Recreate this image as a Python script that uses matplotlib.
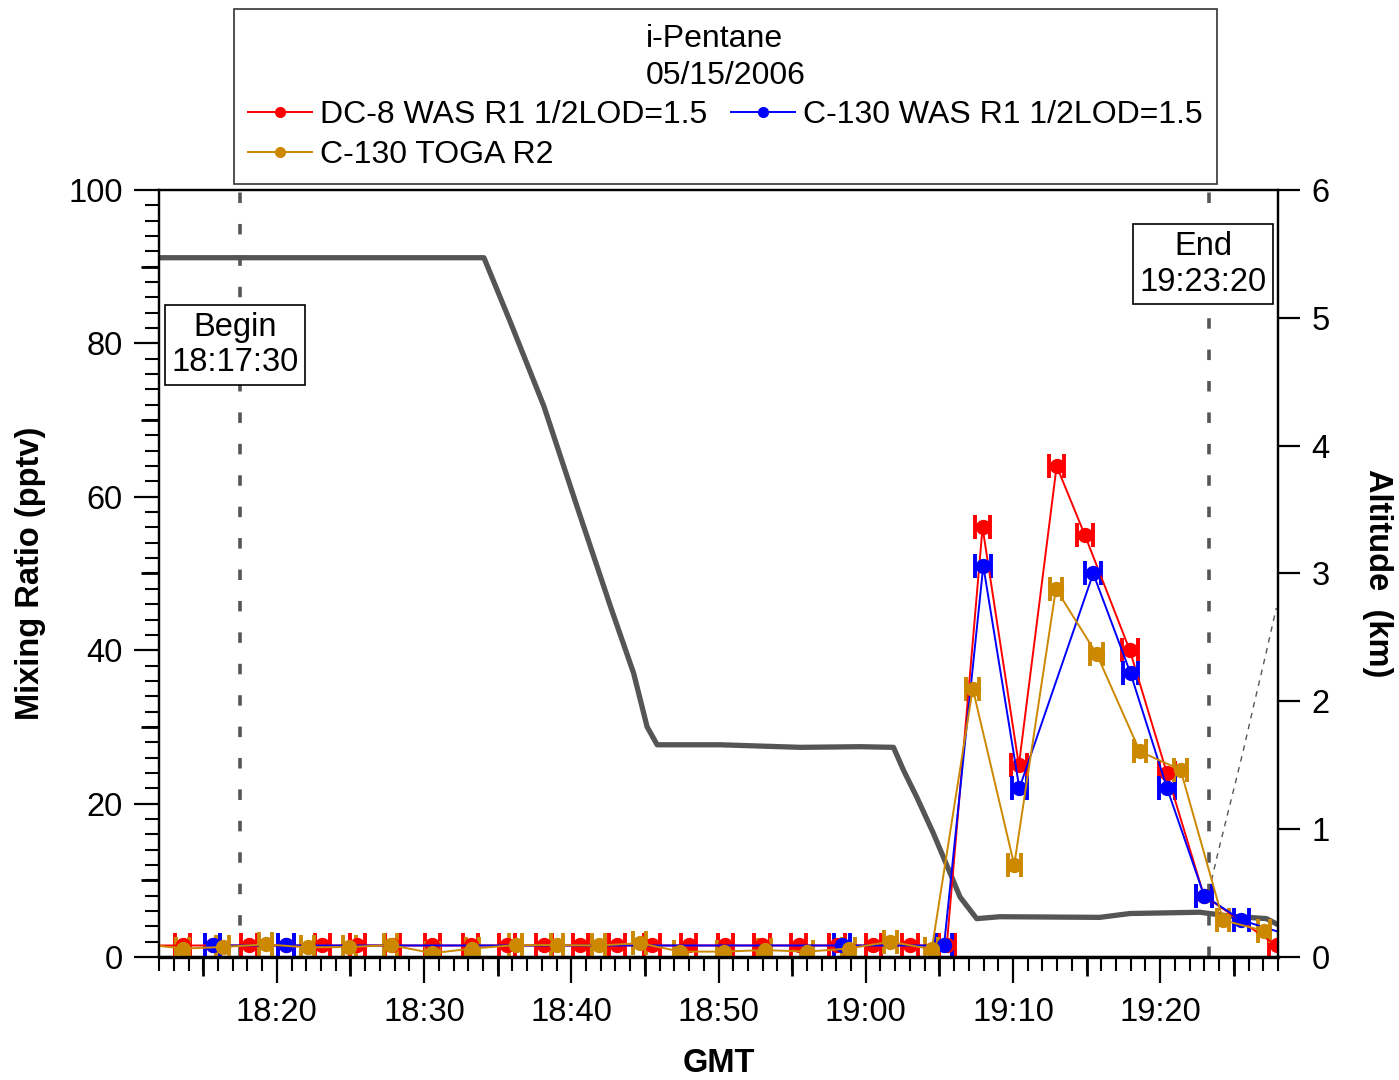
import matplotlib

matplotlib.use("Agg")
import matplotlib.pyplot as plt  # noqa: E402
from matplotlib.lines import Line2D  # noqa: E402
from matplotlib.ticker import MultipleLocator, FuncFormatter  # noqa: E402

plt.rcParams["font.family"] = ["Liberation Sans", "DejaVu Sans"]


def to_min(s):
    """'HH:MM:SS' -> minutes after 18:00 GMT."""
    h, m, sec = (int(v) for v in s.split(":"))
    return (h - 18) * 60 + m + sec / 60


# ---- data ----
DC8_TIME = ["18:11:05", "18:13:36", "18:15:38", "18:18:07", "18:20:37", "18:23:06",
            "18:25:28", "18:27:51", "18:30:34", "18:33:10", "18:35:39", "18:38:08",
            "18:40:37", "18:43:07", "18:45:29", "18:47:58", "18:50:28", "18:52:57",
            "18:55:26", "18:58:02", "19:00:31", "19:03:01", "19:05:30", "19:07:56",
            "19:10:24", "19:12:58", "19:14:53", "19:17:56", "19:20:27", "19:22:58",
            "19:27:54"]
DC8_IPENT = [1.5, 1.5, 1.5, 1.5, 1.5, 1.5, 1.5, 1.5, 1.5, 1.5, 1.5, 1.5,
             1.5, 1.5, 1.5, 1.5, 1.5, 1.5, 1.5, 1.5, 1.5, 1.5, 1.5, 56,
             25, 64, 55, 40, 24, 8, 1.5]
DC8_XERR = 0.53  # min

C130_TIME = ["18:15:38", "18:20:37", "18:58:23", "19:05:19", "19:07:59", "19:10:26",
             "19:15:27", "19:17:59", "19:20:28", "19:22:59", "19:25:31", "19:29:00"]
C130_IPENT = [1.5, 1.5, 1.5, 1.5, 51, 22, 50, 37, 22, 8, 4.8, 2.7]
C130_XERR = 0.53

TOGA_TIME = ["18:10:50", "18:13:36", "18:16:19", "18:19:15", "18:22:05", "18:24:55",
             "18:27:44", "18:30:34", "18:33:17", "18:36:13", "18:39:02", "18:41:52",
             "18:44:39", "18:47:25", "18:50:21", "18:53:08", "18:56:01", "18:58:50",
             "19:01:40", "19:04:29", "19:07:16", "19:10:05", "19:12:55", "19:15:41",
             "19:18:37", "19:21:23", "19:24:16", "19:27:03"]
TOGA_IPENT = [1.7, 1.1, 1.3, 1.65, 1.25, 1.3, 1.55, 0.5, 1.1, 1.55, 1.55, 1.5,
              1.8, 0.7, 0.7, 0.9, 0.7, 1.1, 2.0, 1.0, 35, 12, 48, 39.5,
              26.8, 24.4, 4.8, 3.4]
TOGA_XERR = 0.43

ALT_TIME = ["18:12:00", "18:34:04", "18:35:53", "18:38:08", "18:40:24", "18:42:40",
            "18:44:14", "18:45:09", "18:45:50", "18:47:11", "18:50:07", "18:55:33",
            "18:59:37", "19:01:53", "19:02:34", "19:03:28", "19:04:35", "19:05:44",
            "19:06:24", "19:07:32", "19:09:07", "19:15:54", "19:17:56", "19:22:41",
            "19:24:43", "19:27:13", "19:27:53"]
ALT_KM = [5.47, 5.47, 4.96, 4.31, 3.52, 2.74, 2.22, 1.80, 1.66, 1.66, 1.66, 1.64,
          1.645, 1.64, 1.46, 1.25, 0.97, 0.655, 0.47, 0.30, 0.315, 0.31, 0.34, 0.35,
          0.32, 0.30, 0.26]

ALT2_TIME = ["19:23:29", "19:23:56", "19:24:57", "19:25:38", "19:26:25", "19:27:13",
             "19:27:53"]
ALT2_KM = [0.60, 0.82, 1.29, 1.61, 2.00, 2.39, 2.73]

BEGIN, END = "18:17:30", "19:23:20"

RED, BLUE, ORANGE, GRAY = "#ff0000", "#0000ff", "#cc8800", "#555555"
FS = 23.5
LFS = 23

fig = plt.figure(figsize=(13.99, 10.8), dpi=100)
ax = fig.add_axes([0.1137, 0.1139, 0.7998, 0.7102])
ax2 = ax.twinx()
ax.set_zorder(ax2.get_zorder() + 1)
ax.patch.set_visible(False)

# altitude (right axis)
ax2.plot([to_min(t) for t in ALT_TIME], ALT_KM, color=GRAY, lw=3.8,
         solid_joinstyle="round")
ax2.plot([to_min(t) for t in ALT2_TIME], ALT2_KM, color=GRAY, lw=1.0,
         linestyle=(0, (4, 4)))
ax2.set_ylim(0, 6)
ax2.yaxis.set_major_locator(MultipleLocator(1))
ax2.tick_params(axis="y", direction="out", length=16, width=1.6, labelsize=FS, pad=8)
ax2.set_ylabel("Altitude  (km)", fontsize=FS, fontweight="bold", rotation=-90,
               labelpad=46)

# mixing ratios (left axis)
series = [
    (DC8_TIME, DC8_IPENT, DC8_XERR, RED),
    (C130_TIME, C130_IPENT, C130_XERR, BLUE),
    (TOGA_TIME, TOGA_IPENT, TOGA_XERR, ORANGE),
]
for times, vals, xerr, col in series:
    ax.errorbar([to_min(t) for t in times], vals, xerr=xerr, color=col, lw=1.4,
                marker="o", ms=10, mec=col, elinewidth=2.2, capsize=8.5,
                capthick=2.8, clip_on=True)

for t in (BEGIN, END):
    ax.axvline(to_min(t), color=GRAY, lw=2.6, linestyle=(0, (2.9, 5.8)), zorder=1)

box = dict(boxstyle="square,pad=0.2", fc="white", ec="black", lw=1.2)
ax.text(17.15, 79.8, "Begin\n18:17:30", ha="center", va="center", fontsize=FS,
        bbox=box, linespacing=1.2)
ax.text(82.92, 90.3, "End\n19:23:20", ha="center", va="center", fontsize=FS,
        bbox=box, linespacing=1.2)

ax.set_xlim(12, 88)
ax.set_ylim(0, 100)
ax.xaxis.set_major_locator(MultipleLocator(10))
ax.xaxis.set_minor_locator(MultipleLocator(1))
ax.xaxis.set_major_formatter(FuncFormatter(
    lambda v, _: f"{18 + int(v) // 60}:{int(v) % 60:02d}"))
ax.yaxis.set_major_locator(MultipleLocator(20))
ax.yaxis.set_minor_locator(MultipleLocator(2))
ax.tick_params(which="major", direction="out", length=18, width=1.6,
               labelsize=FS, pad=8)
ax.tick_params(which="minor", direction="out", length=10, width=1.5)
ax.tick_params(axis="x", which="major", length=19, pad=10)

# medium ticks at the 5-minute / odd-ten marks
sx = ax.secondary_xaxis("bottom")
sx.set_xticks(range(15, 90, 10), labels=[])
sx.tick_params(direction="out", length=14, width=2.0)
sx.spines["bottom"].set_visible(False)
sy = ax.secondary_yaxis("left")
sy.set_yticks(range(10, 100, 20), labels=[])
sy.tick_params(direction="out", length=13, width=2.0)
sy.spines["left"].set_visible(False)

ax.set_xlabel("GMT", fontsize=FS, fontweight="bold", labelpad=14)
ax.set_ylabel("Mixing Ratio (pptv)", fontsize=FS, fontweight="bold", labelpad=16)
for a in (ax, ax2):
    for s in a.spines.values():
        s.set_linewidth(1.6)
ax.spines["bottom"].set_linewidth(2.4)

handles = [
    Line2D([], [], color=RED, marker="o", ms=7, lw=1.4),
    Line2D([], [], color=ORANGE, marker="o", ms=7, lw=1.4),
    Line2D([], [], color=BLUE, marker="o", ms=7, lw=1.4),
]
labels = ["DC-8 WAS R1 1/2LOD=1.5", "C-130 TOGA R2", "C-130 WAS R1 1/2LOD=1.5"]
leg = fig.legend(handles, labels, ncol=2, loc="upper center",
                 bbox_to_anchor=(0.5186, 1.006), fontsize=LFS,
                 title="i-Pentane\n05/15/2006", title_fontsize=LFS,
                 frameon=True, fancybox=False, edgecolor="black",
                 handlelength=2.0, handletextpad=0.25, columnspacing=0.75,
                 labelspacing=0.3, borderpad=0.45, alignment="center")
leg.get_frame().set_linewidth(1.2)
leg.get_title().set_linespacing(1.3)

fig.savefig("out.png", dpi=100)
